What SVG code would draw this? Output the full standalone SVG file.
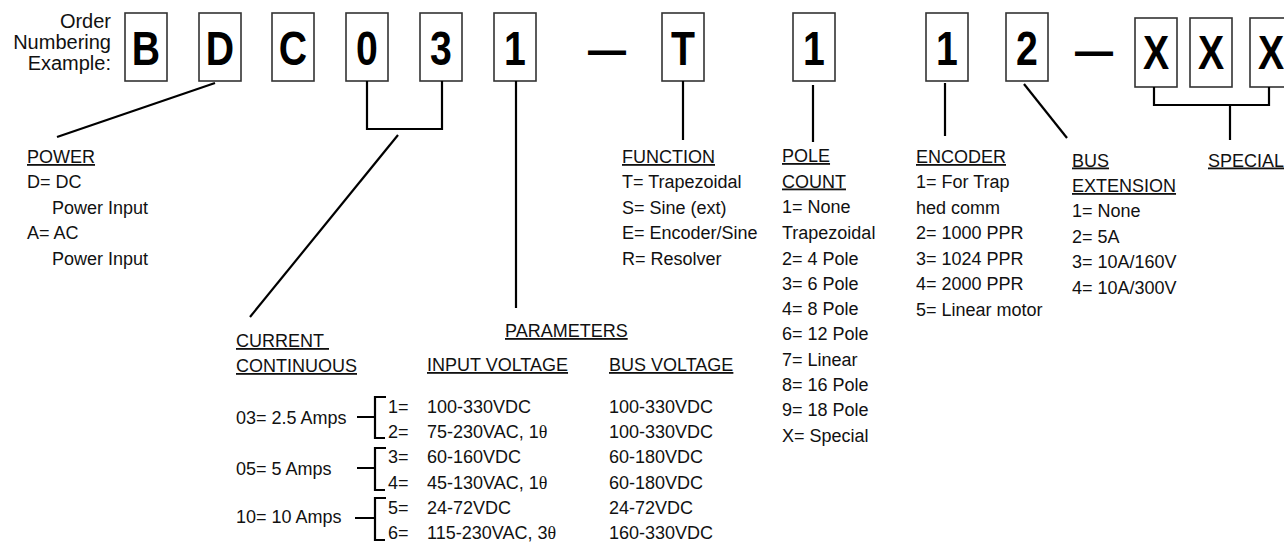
<svg xmlns="http://www.w3.org/2000/svg" width="1284" height="544" viewBox="0 0 1284 544">
<style>
.bg{fill:#fff}
.box{fill:#fff;stroke:#333;stroke-width:1.6}
.big{font-family:"Liberation Sans",Arial,sans-serif;font-weight:bold;font-size:49px;fill:#000;text-anchor:middle}
.dash{font-family:"Liberation Sans",Arial,sans-serif;font-weight:bold;font-size:45px;fill:#000}
.hdr{font-family:"Liberation Sans",Arial,sans-serif;font-size:20px;fill:#111;text-anchor:end}
.t{font-family:"Liberation Sans",Arial,sans-serif;font-size:18px;fill:#111}
.u{text-decoration:underline}
.th{font-family:"Liberation Serif","Times New Roman",serif}
.ln{fill:none;stroke:#000;stroke-width:2.2}
</style>
<rect class="bg" width="1284" height="544"/>

<g id="header">
<text class="hdr" x="111" y="28">Order</text>
<text class="hdr" x="111" y="49">Numbering</text>
<text class="hdr" x="111" y="70">Example:</text>
</g>

<g id="code">
<g id="box-B"><rect class="box" x="125" y="13" width="42" height="68"/><text class="big" transform="translate(146,65) scale(0.8,1)">B</text></g>
<g id="box-D"><rect class="box" x="199" y="13" width="42" height="68"/><text class="big" transform="translate(220,65) scale(0.8,1)">D</text></g>
<g id="box-C"><rect class="box" x="272" y="13" width="42" height="68"/><text class="big" transform="translate(293,65) scale(0.8,1)">C</text></g>
<g id="box-0"><rect class="box" x="346" y="13" width="42" height="68"/><text class="big" transform="translate(367,65) scale(0.8,1)">0</text></g>
<g id="box-3"><rect class="box" x="420" y="13" width="42" height="68"/><text class="big" transform="translate(441,65) scale(0.8,1)">3</text></g>
<g id="box-1a"><rect class="box" x="494" y="13" width="42" height="68"/><text class="big" transform="translate(515,65) scale(0.8,1)">1</text></g>
<g id="dash-1"><text class="dash" x="588" y="65" textLength="38" lengthAdjust="spacingAndGlyphs">—</text></g>
<g id="box-T"><rect class="box" x="662" y="13" width="42" height="68"/><text class="big" transform="translate(683,65) scale(0.8,1)">T</text></g>
<g id="box-1b"><rect class="box" x="793" y="13" width="42" height="68"/><text class="big" transform="translate(814,65) scale(0.8,1)">1</text></g>
<g id="box-1c"><rect class="box" x="926" y="13" width="42" height="68"/><text class="big" transform="translate(947,65) scale(0.8,1)">1</text></g>
<g id="box-2"><rect class="box" x="1006" y="13" width="42" height="68"/><text class="big" transform="translate(1027,65) scale(0.8,1)">2</text></g>
<g id="dash-2"><text class="dash" x="1075" y="66" textLength="38" lengthAdjust="spacingAndGlyphs">—</text></g>
<g id="box-X1"><rect class="box" x="1135" y="18" width="42" height="69"/><text class="big" transform="translate(1156,69) scale(0.8,1)">X</text></g>
<g id="box-X2"><rect class="box" x="1190" y="18" width="42" height="69"/><text class="big" transform="translate(1211,69) scale(0.8,1)">X</text></g>
<g id="box-X3"><rect class="box" x="1250" y="18" width="42" height="69"/><text class="big" transform="translate(1271,69) scale(0.8,1)">X</text></g>
</g>

<g id="connectors">
<path class="ln" d="M215,83 L57,137"/>
<path class="ln" d="M367,81 V129 H442 V81"/>
<path class="ln" d="M398,135 L250,317"/>
<path class="ln" d="M516,81 V308"/>
<path class="ln" d="M683,81 V140"/>
<path class="ln" d="M813,85 V142"/>
<path class="ln" d="M945,83 V136"/>
<path class="ln" d="M1024,84 L1067,138"/>
<path class="ln" d="M1154,87 V105 H1269 V87"/>
<path class="ln" d="M1230,105 V140"/>
<path class="ln" d="M357,417 H375 M386,397 H375 V438 H385"/>
<path class="ln" d="M357,468 H375 M386,448 H375 V490 H385"/>
<path class="ln" d="M355,518 H375 M386,498 H375 V540 H385"/>
</g>

<g id="power">
<text class="t u" x="27" y="163">POWER</text>
<text class="t" x="27" y="188">D= DC</text>
<text class="t" x="52" y="214">Power Input</text>
<text class="t" x="27" y="239">A= AC</text>
<text class="t" x="52" y="265">Power Input</text>
</g>

<g id="current">
<text class="t u" x="236" y="347">CURRENT&#160;</text>
<text class="t u" x="236" y="372">CONTINUOUS</text>
<text class="t" x="236" y="424">03= 2.5 Amps</text>
<text class="t" x="236" y="475">05= 5 Amps</text>
<text class="t" x="236" y="523">10= 10 Amps</text>
</g>

<g id="parameters">
<text class="t u" x="505" y="337">PARAMETERS</text>
<text class="t u" x="427" y="371">INPUT VOLTAGE</text>
<text class="t u" x="609" y="371">BUS VOLTAGE</text>
<text class="t" x="388" y="412.5">1=</text>
<text class="t" x="388" y="438">2=</text>
<text class="t" x="388" y="463">3=</text>
<text class="t" x="388" y="488.5">4=</text>
<text class="t" x="388" y="513.5">5=</text>
<text class="t" x="388" y="539">6=</text>
<text class="t" x="427" y="412.5">100-330VDC</text>
<text class="t" x="427" y="438">75-230VAC, 1<tspan class="th">θ</tspan></text>
<text class="t" x="427" y="463">60-160VDC</text>
<text class="t" x="427" y="488.5">45-130VAC, 1<tspan class="th">θ</tspan></text>
<text class="t" x="427" y="513.5">24-72VDC</text>
<text class="t" x="427" y="539">115-230VAC, 3<tspan class="th">θ</tspan></text>
<text class="t" x="609" y="412.5">100-330VDC</text>
<text class="t" x="609" y="438">100-330VDC</text>
<text class="t" x="609" y="463">60-180VDC</text>
<text class="t" x="609" y="488.5">60-180VDC</text>
<text class="t" x="609" y="513.5">24-72VDC</text>
<text class="t" x="609" y="539">160-330VDC</text>
</g>

<g id="function">
<text class="t u" x="622" y="163">FUNCTION</text>
<text class="t" x="622" y="188">T= Trapezoidal</text>
<text class="t" x="622" y="214">S= Sine (ext)</text>
<text class="t" x="622" y="239">E= Encoder/Sine</text>
<text class="t" x="622" y="265">R= Resolver</text>
</g>

<g id="pole-count">
<text class="t u" x="782" y="162">POLE</text>
<text class="t u" x="782" y="187.5">COUNT</text>
<text class="t" x="782" y="213">1= None</text>
<text class="t" x="782" y="239">Trapezoidal</text>
<text class="t" x="782" y="264.5">2= 4 Pole</text>
<text class="t" x="782" y="290">3= 6 Pole</text>
<text class="t" x="782" y="315">4= 8 Pole</text>
<text class="t" x="782" y="340">6= 12 Pole</text>
<text class="t" x="782" y="365.5">7= Linear</text>
<text class="t" x="782" y="391">8= 16 Pole</text>
<text class="t" x="782" y="416">9= 18 Pole</text>
<text class="t" x="782" y="441.5">X= Special</text>
</g>

<g id="encoder">
<text class="t u" x="916" y="163">ENCODER</text>
<text class="t" x="916" y="188">1= For Trap</text>
<text class="t" x="916" y="213.5">hed comm</text>
<text class="t" x="916" y="239">2= 1000 PPR</text>
<text class="t" x="916" y="264.5">3= 1024 PPR</text>
<text class="t" x="916" y="290">4= 2000 PPR</text>
<text class="t" x="916" y="315.5">5= Linear motor</text>
</g>

<g id="bus-extension">
<text class="t u" x="1072" y="166.5">BUS</text>
<text class="t u" x="1072" y="192">EXTENSION</text>
<text class="t" x="1072" y="217">1= None</text>
<text class="t" x="1072" y="242.5">2= 5A</text>
<text class="t" x="1072" y="268">3= 10A/160V</text>
<text class="t" x="1072" y="293.5">4= 10A/300V</text>
</g>

<g id="special">
<text class="t u" x="1208" y="166.5">SPECIAL</text>
</g>
</svg>
